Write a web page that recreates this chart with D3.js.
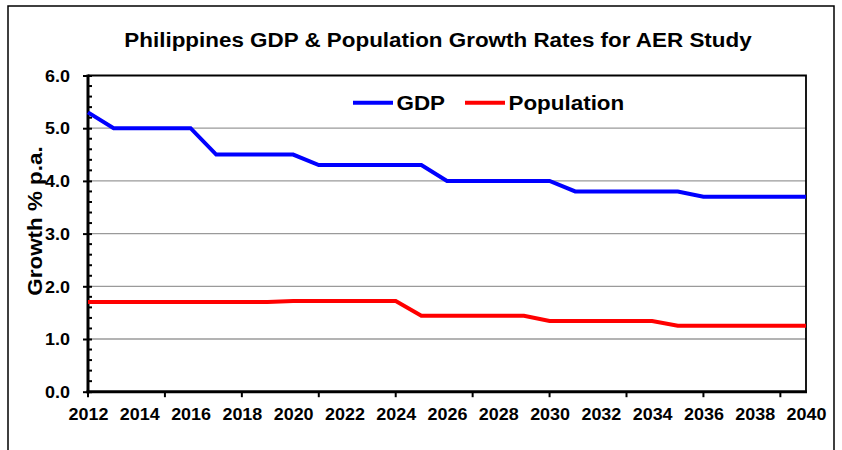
<!DOCTYPE html>
<html>
<head>
<meta charset="utf-8">
<script src="https://cdn.jsdelivr.net/npm/d3@7"></script>
<style>
  html, body { margin: 0; padding: 0; background: #fff; }
  svg { display: block; }
  text { font-family: "Liberation Sans", Arial, sans-serif; font-weight: bold; fill: #000; }
</style>
</head>
<body>
<svg id="chart" width="842" height="450"></svg>
<script>
const years = [2012,2013,2014,2015,2016,2017,2018,2019,2020,2021,2022,2023,2024,2025,2026,
               2027,2028,2029,2030,2031,2032,2033,2034,2035,2036,2037,2038,2039,2040];
const gdp = [5.3,5.0,5.0,5.0,5.0,4.5,4.5,4.5,4.5,4.3,4.3,4.3,4.3,4.3,4.0,
             4.0,4.0,4.0,4.0,3.8,3.8,3.8,3.8,3.8,3.7,3.7,3.7,3.7,3.7];
const population = [1.70,1.70,1.70,1.70,1.70,1.70,1.70,1.70,1.72,1.72,1.72,1.72,1.72,1.44,1.44,
                    1.44,1.44,1.44,1.34,1.34,1.34,1.34,1.34,1.25,1.25,1.25,1.25,1.25,1.25];
const yTicks = [0,1,2,3,4,5,6];
const xLabelYears = [2012,2014,2016,2018,2020,2022,2024,2026,2028,2030,2032,2034,2036,2038,2040];
const xTickYears = [2012,2015,2018,2021,2024,2027,2030,2033,2036,2039];
const seriesNames = ["GDP", "Population"];
const seriesColors = ["#0000ff", "#ff0000"];

const STRETCH = 1.12;
function stretch(sel) {
  sel.each(function() {
    const w = this.getComputedTextLength();
    d3.select(this).attr("textLength", w * STRETCH).attr("lengthAdjust", "spacingAndGlyphs");
  });
  return sel;
}

const svg = d3.select("#chart");
const L = 88, R = 806, T = 75.5, B = 391.7;

const x = d3.scalePoint().domain(years).range([L, R]);
const y = d3.scaleLinear().domain([0, 6]).range([B, T]);

// outer frame
svg.append("path")
  .attr("d", "M8,460 L8,6 L834,6 L834,460")
  .attr("fill", "none").attr("stroke", "#000").attr("stroke-width", 1.5);

// title
stretch(svg.append("text")
  .attr("x", 438).attr("y", 47).attr("text-anchor", "middle")
  .attr("font-size", 20)
  .text("Philippines GDP & Population Growth Rates for AER Study"));

// gridlines
svg.append("g").selectAll("line").data(yTicks.filter(d => d > 0 && d < 6)).join("line")
  .attr("x1", L).attr("x2", R)
  .attr("y1", d => y(d)).attr("y2", d => y(d))
  .attr("stroke", "#9a9a9a").attr("stroke-width", 1.3);

// plot border top/right
svg.append("path")
  .attr("d", `M${L},${y(6)} L${R},${y(6)} L${R},${B}`)
  .attr("fill", "none").attr("stroke", "#000").attr("stroke-width", 1.8);

// y axis
const yMinor = d3.range(0, 31).map(i => i * 0.2).filter((d, i) => i % 5 !== 0);
svg.append("g").selectAll("line").data(yMinor).join("line")
  .attr("x1", L).attr("x2", L + 4)
  .attr("y1", d => y(d)).attr("y2", d => y(d))
  .attr("stroke", "#000").attr("stroke-width", 2);

const yAxis = d3.axisLeft(y).tickValues(yTicks).tickFormat(d3.format(".1f")).tickSize(5).tickPadding(13);
const gy = svg.append("g").attr("transform", `translate(${L},0)`).call(yAxis);
gy.select(".domain").remove();
gy.selectAll(".tick line").attr("stroke", "#000").attr("stroke-width", 2).attr("x2", -5).attr("x1", 4);
gy.selectAll(".tick text").attr("font-size", 16).attr("font-family", null).attr("fill", "#000").attr("dy", "0.36em");
stretch(gy.selectAll(".tick text"));

svg.append("line").attr("x1", L).attr("x2", L).attr("y1", T - 1).attr("y2", B + 1.5)
  .attr("stroke", "#000").attr("stroke-width", 3);

// x axis
const xAxis = d3.axisBottom(x).tickValues(xLabelYears).tickSize(0).tickPadding(17);
const gx = svg.append("g").attr("transform", `translate(0,${B})`).call(xAxis);
gx.select(".domain").remove();
gx.selectAll(".tick text").attr("font-size", 16).attr("font-family", null).attr("fill", "#000");
stretch(gx.selectAll(".tick text"));

svg.append("g").selectAll("line").data(xTickYears).join("line")
  .attr("x1", d => x(d)).attr("x2", d => x(d))
  .attr("y1", B).attr("y2", B + 5.5)
  .attr("stroke", "#000").attr("stroke-width", 2);

svg.append("line").attr("x1", L - 1.5).attr("x2", R + 1).attr("y1", B).attr("y2", B)
  .attr("stroke", "#000").attr("stroke-width", 3);

// lines
const line = d3.line().x((d, i) => x(years[i])).y(d => y(d));
[gdp, population].forEach((s, k) => {
  svg.append("path").datum(s)
    .attr("d", line)
    .attr("fill", "none")
    .attr("stroke", seriesColors[k])
    .attr("stroke-width", 4)
    .attr("stroke-linejoin", "miter");
});

// y-axis title
stretch(svg.append("text")
  .attr("transform", "translate(42,221) rotate(-90)")
  .attr("text-anchor", "middle")
  .attr("font-size", 20)
  .text("Growth % p.a."));

// legend
const legendX = [353, 465];
const legend = svg.append("g");
seriesNames.forEach((n, k) => {
  legend.append("line")
    .attr("x1", legendX[k]).attr("x2", legendX[k] + 40)
    .attr("y1", 102.7).attr("y2", 102.7)
    .attr("stroke", seriesColors[k]).attr("stroke-width", 4);
  stretch(legend.append("text")
    .attr("x", legendX[k] + 43.5).attr("y", 109.5)
    .attr("font-size", 20)
    .text(n));
});
</script>
</body>
</html>
